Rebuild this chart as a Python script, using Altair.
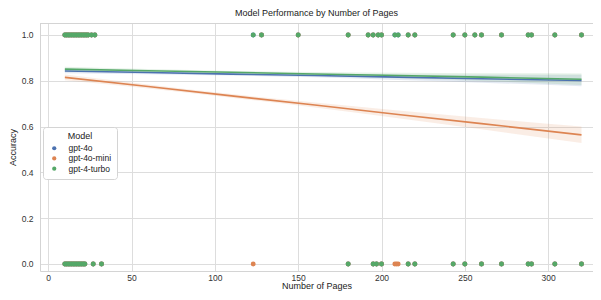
import altair as alt
import pandas as pd

models = ["gpt-4o", "gpt-4o-mini", "gpt-4-turbo"]
colors = ["#4c72b0", "#dd8452", "#55a868"]

# pages of the questions answered correctly / wrongly
turbo_correct_pages = [10, 11, 12, 13, 14, 15, 16, 17, 18, 19, 20, 21, 22, 23, 24, 26, 28,
                       123, 128, 150, 180, 192, 195, 198, 200, 208, 210, 216, 220, 243,
                       250, 256, 260, 272, 288, 290, 304, 320]
turbo_wrong_pages = [10, 11, 12, 13, 14, 15, 16, 17, 18, 19, 20, 21, 22, 27, 32,
                     180, 195, 197, 200, 216, 220, 243, 250, 260, 272, 288, 290, 304, 320]
gpt4o_correct_pages = [10, 11, 12, 13, 14, 15, 16, 17, 18, 19, 20, 21, 22, 23, 24, 26, 28,
                       123, 128, 150, 180, 192, 195, 198, 200, 208, 210, 216, 220, 243,
                       250, 256, 260, 272, 288, 290, 304, 320]
gpt4o_wrong_pages = [10, 11, 12, 13, 14, 15, 16, 17, 18, 19, 20, 21, 22, 27, 32,
                     180, 195, 197, 200, 216, 220, 243, 250, 260, 272, 288, 290, 304, 320]
mini_correct_pages = [10, 11, 12, 13, 14, 15, 16, 17, 18, 19, 20, 21, 22, 23, 24, 26, 28,
                      128, 150, 180, 192, 195, 198, 200, 216, 220, 243,
                      250, 256, 260, 272, 288, 290, 304, 320]
mini_wrong_pages = [10, 11, 12, 13, 14, 15, 16, 17, 18, 19, 20, 21, 22, 27, 32,
                    123, 180, 195, 197, 200, 208, 209, 210, 216, 220, 243, 250, 260,
                    272, 288, 290, 304, 320]

# regression fits and confidence half-widths
fit_pages = [10, 60, 110, 160, 210, 260, 320]
fit_4o = [0.843, 0.836, 0.829, 0.823, 0.816, 0.809, 0.801]
fit_mini = [0.815, 0.775, 0.734, 0.694, 0.653, 0.613, 0.564]
fit_turbo = [0.851, 0.844, 0.837, 0.830, 0.823, 0.816, 0.807]
ci_4o = [0.010, 0.007, 0.006, 0.008, 0.012, 0.017, 0.025]
ci_mini = [0.013, 0.009, 0.008, 0.011, 0.017, 0.025, 0.036]
ci_turbo = [0.010, 0.007, 0.006, 0.008, 0.012, 0.017, 0.025]

x_ticks = [0, 50, 100, 150, 200, 250, 300]
y_ticks = [0.0, 0.2, 0.4, 0.6, 0.8, 1.0]

FONT = "Liberation Sans"
W, H = 553, 248

rows = []
for m, cp, wp in [("gpt-4o", gpt4o_correct_pages, gpt4o_wrong_pages),
                  ("gpt-4o-mini", mini_correct_pages, mini_wrong_pages),
                  ("gpt-4-turbo", turbo_correct_pages, turbo_wrong_pages)]:
    for p in cp:
        rows.append({"Model": m, "pages": p, "acc": 1.0})
    for p in wp:
        rows.append({"Model": m, "pages": p, "acc": 0.0})
pts = pd.DataFrame(rows)
pts["ord"] = pts["Model"].map({m: i for i, m in enumerate(models)})

frows = []
for m, c, f, ci in [("gpt-4o", colors[0], fit_4o, ci_4o),
                    ("gpt-4o-mini", colors[1], fit_mini, ci_mini),
                    ("gpt-4-turbo", colors[2], fit_turbo, ci_turbo)]:
    for x, y, h in zip(fit_pages, f, ci):
        frows.append({"Model": m, "col": c, "pages": x, "fit": y, "lo": y - h, "hi": y + h})
fits = pd.DataFrame(frows)

xscale = alt.Scale(domain=[-4.92, 326.9], nice=False, zero=False)
yscale = alt.Scale(domain=[-0.0306, 1.0524], nice=False, zero=False)

xaxis = alt.Axis(values=x_ticks, title="Number of Pages", format="d")
yaxis = alt.Axis(values=y_ticks, title="Accuracy", format=".1f")

points = alt.Chart(pts).mark_circle(size=24, opacity=1).encode(
    x=alt.X("pages:Q", scale=xscale, axis=xaxis),
    y=alt.Y("acc:Q", scale=yscale, axis=yaxis),
    color=alt.Color("Model:N", scale=alt.Scale(domain=models, range=colors),
                    legend=alt.Legend(title="Model", orient="none", legendX=3, legendY=104,
                                      symbolOpacity=1)),
    order="ord:Q",
)

band = alt.Chart(fits).mark_area(opacity=0.15, interpolate="monotone").encode(
    x=alt.X("pages:Q", scale=xscale),
    y=alt.Y("lo:Q", scale=yscale),
    y2="hi:Q",
    color=alt.Color("col:N", scale=None),
    detail="Model:N",
)

line = alt.Chart(fits).mark_line(strokeWidth=1.6).encode(
    x=alt.X("pages:Q", scale=xscale),
    y=alt.Y("fit:Q", scale=yscale),
    color=alt.Color("col:N", scale=None),
    detail="Model:N",
)

top_rule = alt.Chart(fits).mark_rule(color="#d4d4d4", strokeWidth=1).encode(
    x=alt.value(0), x2=alt.value(W), y=alt.value(0.5)
)

chart = alt.layer(points, band, line, top_rule).properties(
    width=W, height=H,
    title=alt.TitleParams("Model Performance by Number of Pages", fontSize=9, font=FONT,
                          fontWeight="normal", color="#222222", anchor="middle", offset=5),
    padding={"left": 32, "top": 15, "right": 0, "bottom": 21},
    autosize=alt.AutoSizeParams(type="none"),
).configure_view(stroke=None).configure_axis(
    labelFont=FONT, labelFontSize=8.5, labelColor="#333333",
    titleFont=FONT, titleFontSize=9, titleFontWeight="normal", titleColor="#222222",
    gridColor="#dddddd", gridWidth=1, domainColor="#d4d4d4", ticks=False, tickSize=0,
).configure_axisX(labelPadding=2, titlePadding=0).configure_axisY(
    labelPadding=7, titlePadding=4
).configure_legend(
    labelFont=FONT, labelFontSize=8.5, labelColor="#222222",
    titleFont=FONT, titleFontSize=9, titleFontWeight="normal", titleColor="#222222",
    titleAnchor="middle", titlePadding=3, padding=5, strokeColor="#d4d4d4", fillColor="white",
    cornerRadius=3, symbolSize=18, symbolType="circle", rowPadding=1.2,
    labelOffset=10, symbolOffset=2, symbolOpacity=1,
)

chart.save("out.html", embed_options={"renderer": "svg", "actions": False})
